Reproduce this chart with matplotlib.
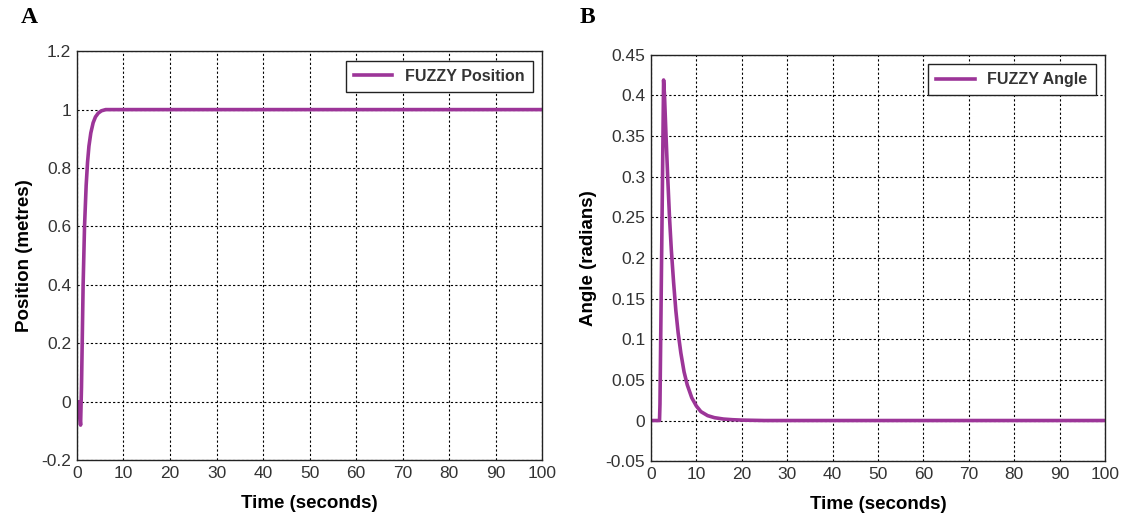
import matplotlib
matplotlib.use('Agg')
import matplotlib.pyplot as plt

# panel A: cart position
pos_t = [0, 0.3, 0.8, 1.0, 1.15, 1.35, 1.65, 2.0, 2.3, 2.6, 3.0, 3.5, 4.0, 4.6, 5.3, 6.2, 7.0, 100]
pos_y = [0, 0, -0.08, 0.05, 0.2, 0.4, 0.6, 0.74, 0.82, 0.875, 0.92, 0.955, 0.975, 0.988, 0.996, 1.0, 1.0, 1.0]

# panel B: pendulum angle
ang_t = [0, 1.9, 2.0, 2.8, 3.0, 3.3, 3.7, 4.1, 4.5, 5.0, 5.5, 6.0, 6.6, 7.3, 8.0, 9.0, 10, 11, 12.5, 14, 16, 18, 20, 25, 100]
ang_y = [0, 0, 0.02, 0.419, 0.40, 0.355, 0.3, 0.25, 0.21, 0.17, 0.135, 0.108, 0.083, 0.06, 0.044, 0.028, 0.018, 0.011, 0.006, 0.0035, 0.0018, 0.001, 0.0005, 0, 0]

x_ticks = list(range(0, 101, 10))
pos_ticks = [-0.2, 0, 0.2, 0.4, 0.6, 0.8, 1, 1.2]
pos_labels = ['-0.2', '0', '0.2', '0.4', '0.6', '0.8', '1', '1.2']
ang_ticks = [-0.05, 0, 0.05, 0.1, 0.15, 0.2, 0.25, 0.3, 0.35, 0.4, 0.45]
ang_labels = ['-0.05', '0', '0.05', '0.1', '0.15', '0.2', '0.25', '0.3', '0.35', '0.4', '0.45']

LINE = '#9c3598'
plt.rcParams['font.family'] = ['Liberation Sans', 'DejaVu Sans']


def style_axes(ax, yticks, ylabels, ylim, ylabel):
    ax.set_xlim(0, 100)
    ax.set_ylim(*ylim)
    ax.set_xticks(x_ticks)
    ax.set_yticks(yticks)
    ax.set_yticklabels(ylabels)
    ax.tick_params(direction='in', length=0, labelsize=12.5, labelcolor='#333333', pad=4)
    ax.grid(True, color='black', linestyle=(0, (2, 2)), linewidth=0.8)
    for s in ax.spines.values():
        s.set_linewidth(1.0)
        s.set_color('#222222')
    ax.set_xlabel('Time (seconds)', fontsize=13.5, fontweight='bold', labelpad=10)
    ax.set_ylabel(ylabel, fontsize=13.5, fontweight='bold', labelpad=6)


fig = plt.figure(figsize=(11.3, 5.17), dpi=100)
ax1 = fig.add_axes([0.068, 0.110, 0.412, 0.791])
ax2 = fig.add_axes([0.576, 0.108, 0.402, 0.786])

ax1.plot(pos_t, pos_y, color=LINE, linewidth=2.6, label='FUZZY Position')
style_axes(ax1, pos_ticks, pos_labels, (-0.2, 1.2), 'Position (metres)')

ax2.plot(ang_t, ang_y, color=LINE, linewidth=2.6, label='FUZZY Angle')
style_axes(ax2, ang_ticks, ang_labels, (-0.05, 0.45), 'Angle (radians)')

for ax in (ax1, ax2):
    leg = ax.legend(loc='upper right', fancybox=False, framealpha=1, edgecolor='#222222',
                    prop={'weight': 'bold', 'size': 11.5}, handlelength=2.4,
                    borderaxespad=0.6, borderpad=0.5)
    leg.get_frame().set_linewidth(1.0)
    for t in leg.get_texts():
        t.set_color('#333333')

fig.text(0.018, 0.955, 'A', fontsize=17, fontweight='bold', family='Liberation Serif')
fig.text(0.513, 0.955, 'B', fontsize=17, fontweight='bold', family='Liberation Serif')

fig.savefig('out.png', dpi=100, facecolor='white')
